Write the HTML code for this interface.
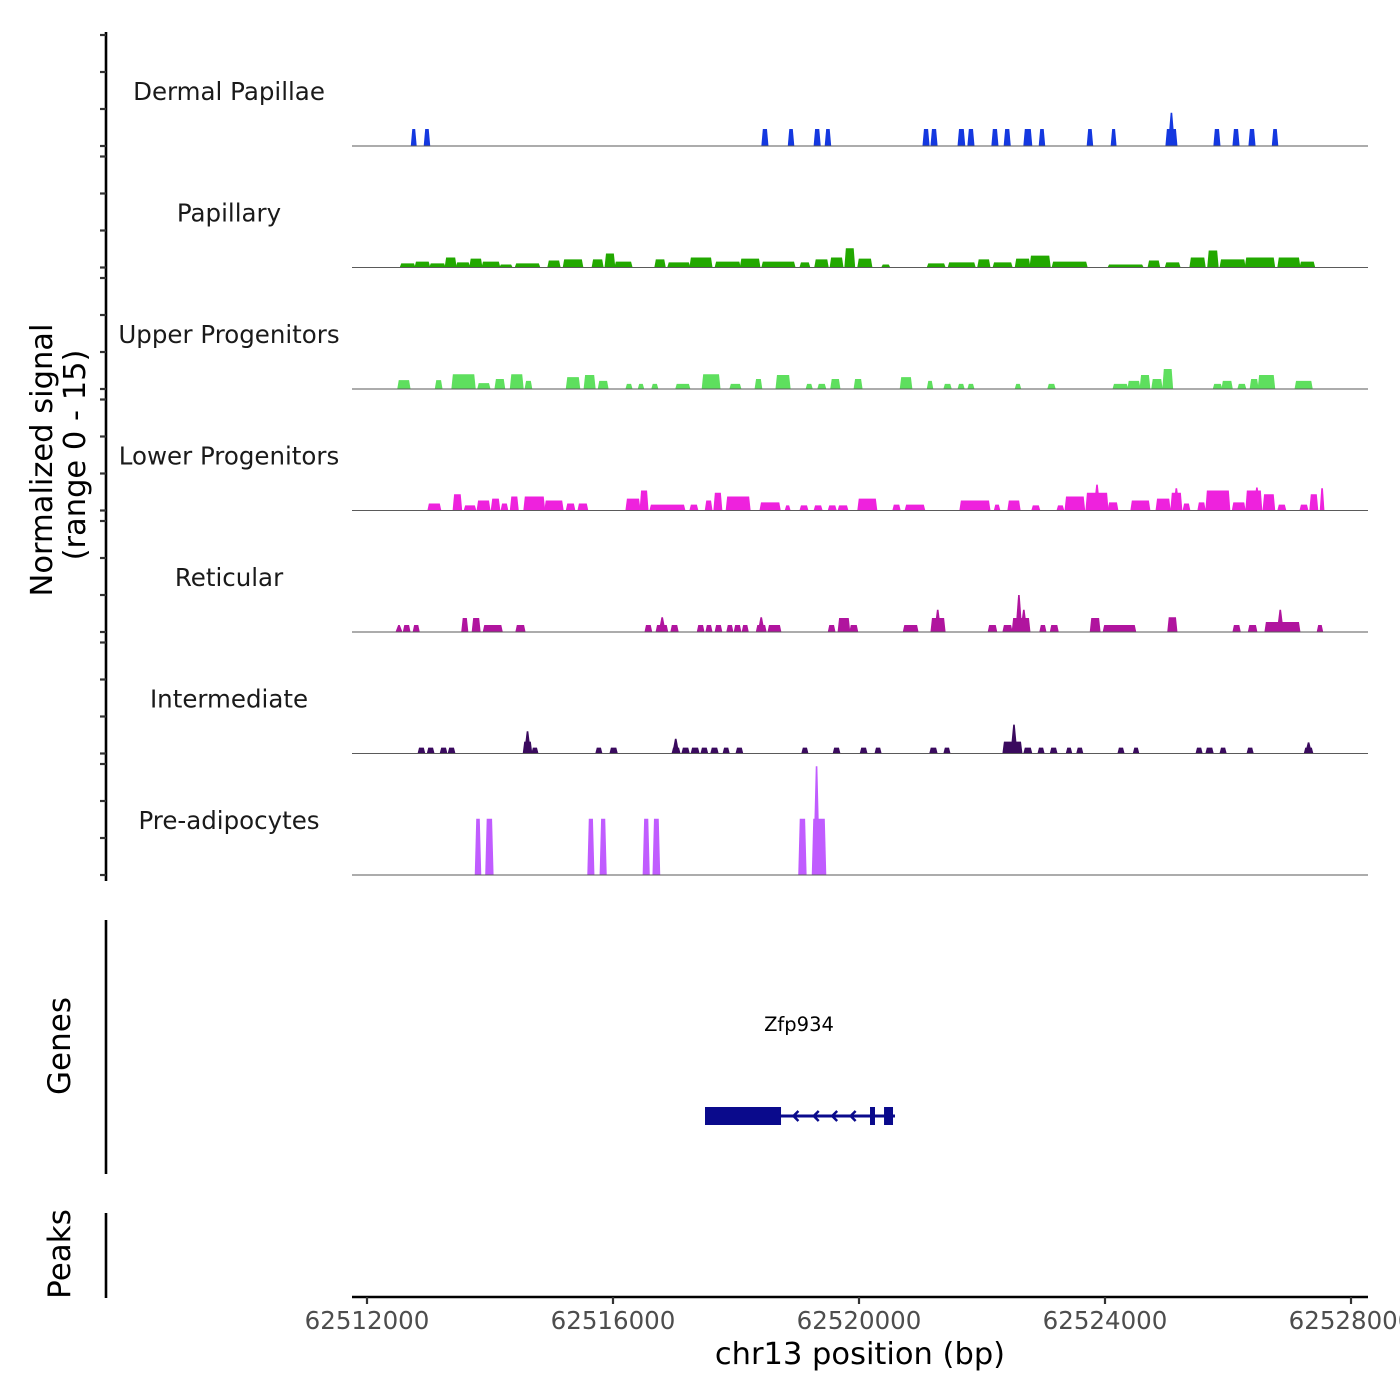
<!DOCTYPE html>
<html><head><meta charset="utf-8">
<style>
html,body{margin:0;padding:0;background:#fff;}
svg{display:block;font-family:"DejaVu Sans","Liberation Sans",sans-serif;}
</style></head>
<body>
<svg id="chart" width="1400" height="1400" viewBox="0 0 1400 1400"></svg>
<script>
// ---- data ----
const regionStart = 62512000;
const xTicks = [62512000, 62516000, 62520000, 62524000, 62528000];
const trackNames = ["Dermal Papillae","Papillary","Upper Progenitors","Lower Progenitors","Reticular","Intermediate","Pre-adipocytes"];
const trackColors = ["#1438E0","#22A800","#5EDF5E","#EE22DD","#B0149E","#3A0A5E","#C05CFF"];
// segments: [startKb, endKb, value] relative to regionStart
const dermalSegs = [[0.72,0.80,2.3],[0.93,1.02,2.3],[6.42,6.52,2.3],[6.85,6.94,2.3],[7.27,7.37,2.3],[7.45,7.54,2.3],[9.04,9.14,2.3],[9.17,9.27,2.3],[9.61,9.72,2.3],[9.77,9.87,2.3],[10.16,10.26,2.3],[10.36,10.46,2.3],[10.68,10.81,2.3],[10.93,11.02,2.3],[11.71,11.80,2.3],[12.10,12.18,2.3],[12.99,13.17,2.3],[13.77,13.87,2.3],[14.08,14.18,2.3],[14.34,14.44,2.3],[14.72,14.81,2.3]];
const dermalSpikes = [[13.08,4.5]];
const papillarySegs = [[0.54,0.78,0.55],[0.78,1.02,0.8],[1.02,1.27,0.55],[1.27,1.45,1.35],[1.45,1.67,0.7],[1.67,1.87,1.2],[1.87,2.16,0.8],[2.16,2.36,0.4],[2.41,2.81,0.55],[2.94,3.14,0.95],[3.19,3.51,1.1],[3.66,3.84,1.1],[3.87,4.03,1.9],[4.03,4.31,0.8],[4.68,4.85,1.1],[4.89,5.25,0.7],[5.25,5.61,1.35],[5.66,6.07,0.8],[6.07,6.39,1.2],[6.42,6.96,0.8],[7.04,7.20,0.7],[7.28,7.50,1.1],[7.53,7.74,1.35],[7.77,7.93,2.6],[7.98,8.21,1.2],[8.37,8.50,0.4],[9.11,9.40,0.55],[9.45,9.89,0.7],[9.93,10.13,1.1],[10.18,10.49,0.7],[10.54,10.78,1.2],[10.78,11.11,1.6],[11.14,11.71,0.8],[12.05,12.62,0.4],[12.70,12.89,0.95],[12.98,13.22,0.7],[13.38,13.63,1.35],[13.67,13.84,2.3],[13.87,14.28,1.1],[14.28,14.76,1.35],[14.81,15.17,1.35],[15.17,15.41,0.8]];
const papillarySpikes = [];
const upperSegs = [[0.50,0.70,1.2],[1.11,1.22,1.2],[1.38,1.76,2.0],[1.80,2.00,0.8],[2.08,2.24,1.35],[2.33,2.54,2.0],[2.57,2.68,1.1],[3.24,3.46,1.6],[3.53,3.71,1.9],[3.76,3.92,1.1],[4.21,4.31,0.7],[4.41,4.50,0.7],[4.63,4.73,0.7],[5.02,5.25,0.7],[5.45,5.74,2.0],[5.90,6.08,0.7],[6.31,6.42,1.35],[6.65,6.88,1.9],[7.14,7.24,0.7],[7.33,7.46,0.7],[7.54,7.69,1.35],[7.92,8.05,1.35],[8.67,8.86,1.6],[9.11,9.20,1.1],[9.38,9.50,0.7],[9.61,9.71,0.7],[9.77,9.87,0.7],[10.54,10.63,0.7],[11.07,11.19,0.7],[12.13,12.37,0.7],[12.37,12.57,1.1],[12.57,12.73,1.9],[12.76,12.93,1.35],[12.94,13.10,2.7],[13.76,13.90,0.7],[13.90,14.07,1.1],[14.16,14.29,0.7],[14.36,14.49,1.35],[14.49,14.76,1.9],[15.09,15.37,1.1]];
const upperSpikes = [];
const lowerSegs = [[0.99,1.20,0.95],[1.40,1.54,2.2],[1.58,1.77,0.7],[1.79,2.00,1.35],[2.02,2.16,1.6],[2.18,2.29,0.95],[2.33,2.46,1.9],[2.55,2.89,1.9],[2.89,3.19,1.35],[3.24,3.38,0.95],[3.43,3.59,0.95],[4.21,4.44,1.6],[4.44,4.57,2.7],[4.60,5.17,0.8],[5.25,5.38,0.8],[5.50,5.61,1.35],[5.64,5.77,2.4],[5.84,6.23,1.9],[6.39,6.72,1.1],[6.80,6.88,0.7],[7.04,7.17,0.7],[7.27,7.40,0.7],[7.50,7.63,0.7],[7.66,7.82,0.7],[7.98,8.29,1.6],[8.55,8.67,0.8],[8.75,9.07,0.8],[9.64,10.13,1.35],[10.20,10.29,0.8],[10.42,10.62,1.35],[10.81,10.94,0.7],[11.22,11.33,0.7],[11.35,11.67,1.9],[11.69,12.05,2.4],[12.05,12.21,1.1],[12.42,12.73,1.35],[12.83,13.06,1.6],[13.07,13.25,2.4],[13.27,13.38,0.95],[13.51,13.63,1.1],[13.64,14.03,2.7],[14.07,14.28,1.1],[14.29,14.55,2.7],[14.57,14.76,2.2],[14.81,14.94,0.8],[15.17,15.30,0.8],[15.33,15.46,2.2],[15.50,15.56,3.0]];
const lowerSpikes = [[11.87,3.5],[13.16,3.0],[14.47,3.1]];
const reticularSegs = [[0.59,0.70,0.95],[0.75,0.85,0.95],[1.54,1.64,1.9],[1.71,1.84,1.9],[1.89,2.20,0.95],[2.42,2.57,0.95],[4.52,4.63,0.95],[4.70,4.89,0.95],[4.94,5.06,0.95],[5.37,5.48,0.95],[5.51,5.61,0.95],[5.66,5.77,0.95],[5.85,5.95,0.95],[5.97,6.08,0.95],[6.10,6.20,0.95],[6.33,6.49,0.95],[6.52,6.73,0.95],[7.50,7.61,0.95],[7.66,7.85,1.9],[7.85,7.98,0.95],[8.72,8.96,0.95],[9.17,9.40,1.9],[10.10,10.24,0.95],[10.34,10.49,0.95],[10.49,10.78,1.9],[10.94,11.04,0.95],[11.11,11.24,0.95],[11.76,11.92,1.9],[11.97,12.50,0.95],[13.02,13.17,2.0],[14.08,14.20,0.95],[14.33,14.47,0.95],[14.60,15.17,1.35],[15.45,15.54,0.95]];
const reticularSpikes = [[0.52,0.95],[4.80,2.0],[6.41,2.0],[9.28,3.0],[10.60,5.0],[10.68,3.0],[14.85,3.0]];
const intermediateSegs = [[0.83,0.94,0.8],[0.98,1.09,0.8],[1.19,1.30,0.8],[1.32,1.43,0.8],[2.54,2.68,1.6],[2.68,2.78,0.8],[3.72,3.82,0.8],[3.95,4.07,0.8],[4.96,5.09,0.8],[5.12,5.24,0.8],[5.27,5.40,0.8],[5.43,5.54,0.8],[5.59,5.71,0.8],[5.79,5.89,0.8],[6.00,6.11,0.8],[7.07,7.17,0.8],[7.58,7.69,0.8],[8.02,8.13,0.8],[8.26,8.36,0.8],[9.15,9.27,0.8],[9.38,9.48,0.8],[10.34,10.65,1.6],[10.68,10.81,0.8],[10.91,11.01,0.8],[11.11,11.22,0.8],[11.37,11.46,0.8],[11.54,11.64,0.8],[12.21,12.31,0.8],[12.46,12.55,0.8],[13.48,13.58,0.8],[13.64,13.76,0.8],[13.87,13.97,0.8],[14.31,14.41,0.8],[15.24,15.38,0.8]];
const intermediateSpikes = [[2.61,3.0],[5.02,2.0],[10.52,3.9],[15.31,1.5]];
const preadipSegs = [[1.76,1.85,7.6],[1.93,2.05,7.6],[3.59,3.69,7.6],[3.79,3.89,7.6],[4.49,4.59,7.6],[4.65,4.76,7.6],[7.02,7.14,7.6],[7.24,7.46,7.6]];
const preadipSpikes = [[7.31,14.7]];
const trackSegs = [dermalSegs,papillarySegs,upperSegs,lowerSegs,reticularSegs,intermediateSegs,preadipSegs];
const trackSpikes = [dermalSpikes,papillarySpikes,upperSpikes,lowerSpikes,reticularSpikes,intermediateSpikes,preadipSpikes];
// gene model (bp)
const geneName = "Zfp934";
const geneStart = 62517496, geneEnd = 62520585;
const exons = [[62517496,62518732],[62520179,62520260],[62520407,62520553]];
const chevrons = [62518950,62519280,62519580,62519880];

// ---- scales ----
const NS="http://www.w3.org/2000/svg";
const svg=document.getElementById('chart');
const X0=367, PX_PER_BP=246/4000;
function xScale(bp){return X0+(bp-regionStart)*PX_PER_BP;}
const baselines=[146,267.5,389,510.5,632,753.5,875];
const PX_PER_UNIT=111/15;
function yScale(v,i){return baselines[i]-v*PX_PER_UNIT;}
function el(tag,attrs,parent){const e=document.createElementNS(NS,tag);for(const k in attrs)e.setAttribute(k,attrs[k]);(parent||svg).appendChild(e);return e;}

// left signal axis
const ax=el('line',{x1:106,y1:32,x2:106,y2:881,stroke:'#000','stroke-width':2.6});


baselines.forEach((b,i)=>{
  [0,5,10,15].forEach(v=>{
    const t=el('line',{x1:100,x2:106,y1:yScale(v,i),y2:yScale(v,i),stroke:'#333','stroke-width':2.2});
    
    
  });
});
// y titles
const yt=el('text',{transform:'translate(52,460) rotate(-90)','text-anchor':'middle','font-size':30.5,fill:'#000'});
yt.textContent='Normalized signal';


const yt2=el('text',{transform:'translate(85,455) rotate(-90)','text-anchor':'middle','font-size':30.5,fill:'#000'});
yt2.textContent='(range 0 - 15)';



// tracks
trackNames.forEach((name,i)=>{
  const g=el('g',{});
  
  
  const lbl=el('text',{x:229,y:baselines[i]-46,'text-anchor':'middle','font-size':24.5,fill:'#1a1a1a'},g);
  lbl.textContent=name;
  
  
  trackSegs[i].forEach(s=>{
    const x1=xScale(regionStart+s[0]*1000),x2=xScale(regionStart+s[1]*1000);
    const y=yScale(s[2],i),b=baselines[i];
    const p=el('polygon',{points:`${x1-0.5},${b} ${x1+1},${y} ${x2-1},${y} ${x2+0.5},${b}`,fill:trackColors[i]},g);
    
    
  });
  trackSpikes[i].forEach(s=>{
    const xc=xScale(regionStart+s[0]*1000),y=yScale(s[1],i),b=baselines[i];
    const p=el('polygon',{points:`${xc-3.5},${b} ${xc-0.8},${y} ${xc+0.8},${y} ${xc+3.5},${b}`,fill:trackColors[i]},g);
    
    
  });
  const bl=el('line',{x1:352,x2:1368,y1:baselines[i],y2:baselines[i],stroke:'#5a5a5a','stroke-width':1},g);
  
  
});

// genes panel
const gax=el('line',{x1:106,y1:920,x2:106,y2:1174,stroke:'#000','stroke-width':2.6});


const gt=el('text',{transform:'translate(70,1046) rotate(-90)','text-anchor':'middle','font-size':31,fill:'#000'});
gt.textContent='Genes';


const gg=el('g',{});


const gl=el('line',{x1:xScale(geneStart),x2:xScale(geneEnd),y1:1116,y2:1116,stroke:'#0A0A8C','stroke-width':3},gg);


exons.forEach(e=>{
  const r=el('rect',{x:xScale(e[0]),y:1107,width:Math.max(2.5,xScale(e[1])-xScale(e[0])),height:18,fill:'#0A0A8C'},gg);
  
  
});
chevrons.forEach(c=>{
  const x=xScale(c);
  const p=el('polyline',{points:`${x+4},${1111} ${x-1},${1116} ${x+4},${1121}`,fill:'none',stroke:'#0A0A8C','stroke-width':2.5},gg);
  
  
});
const gn=el('text',{x:799,y:1031,'text-anchor':'middle','font-size':19.5,fill:'#000'},gg);
gn.textContent=geneName;



// peaks panel
const pax=el('line',{x1:106,y1:1213,x2:106,y2:1298,stroke:'#000','stroke-width':2.6});


const pt=el('text',{transform:'translate(70,1254) rotate(-90)','text-anchor':'middle','font-size':31,fill:'#000'});
pt.textContent='Peaks';



// x axis
const xa=el('line',{x1:352,x2:1368,y1:1297,y2:1297,stroke:'#000','stroke-width':2.6});


xTicks.forEach(t=>{
  const x=xScale(t);
  const tk=el('line',{x1:x,x2:x,y1:1297,y2:1304,stroke:'#333','stroke-width':2.2});
  
  
  const tl=el('text',{x:x,y:1329,'text-anchor':'middle','font-size':24.5,fill:'#4d4d4d'});
  tl.textContent=String(t);
  
  
});
const xt=el('text',{x:860,y:1364,'text-anchor':'middle','font-size':30.5,fill:'#000'});
xt.textContent='chr13 position (bp)';


</script>
</body></html>
